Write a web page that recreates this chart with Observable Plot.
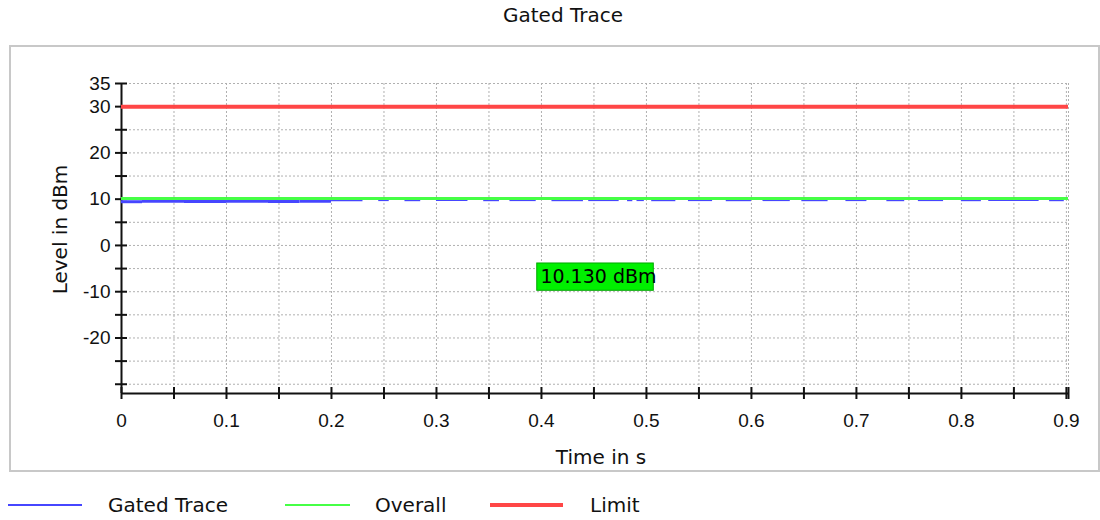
<!DOCTYPE html>
<html>
<head>
<meta charset="utf-8">
<script src="https://cdn.jsdelivr.net/npm/d3@7"></script>
<script src="https://cdn.jsdelivr.net/npm/@observablehq/plot@0.6"></script>
<style>
  html, body { margin: 0; padding: 0; background: #fff; }
  body { position: relative; width: 1100px; height: 520px; overflow: hidden; font-family: "DejaVu Sans", sans-serif; }
  #title { position: absolute; left: 0; top: 3px; width: 1126px; text-align: center; font-size: 20px; color: #111; }
  #frame { position: absolute; left: 9px; top: 45px; width: 1087px; height: 423px; border: 2px solid #c8c8c8; }
  #legend { position: absolute; left: 0; top: 492px; width: 1100px; height: 26px; font-size: 20px; color: #111; }
  .sw { position: absolute; }
  .lt { position: absolute; top: 0; line-height: 26px; }
</style>
</head>
<body>
<div id="title">Gated Trace</div>
<div id="frame"></div>
<div id="legend">
  <div class="sw" style="left:8px;top:12px;width:74px;height:2px;background:#4646ff"></div>
  <div class="lt" style="left:108px">Gated Trace</div>
  <div class="sw" style="left:285px;top:12px;width:65px;height:2px;background:#46ff46"></div>
  <div class="lt" style="left:375px">Overall</div>
  <div class="sw" style="left:490px;top:11px;width:73px;height:4px;background:#ff4646"></div>
  <div class="lt" style="left:590px">Limit</div>
</div>
<script>
// ---- data ----
const xDomain = [0, 0.902];
const yDomain = [-32, 35];
const xTicks = [0, 0.05, 0.1, 0.15, 0.2, 0.25, 0.3, 0.35, 0.4, 0.45, 0.5, 0.55, 0.6, 0.65, 0.7, 0.75, 0.8, 0.85, 0.9, 0.902];
const xLabels = [0, 0.1, 0.2, 0.3, 0.4, 0.5, 0.6, 0.7, 0.8, 0.9];
const yTicks = [-30, -25, -20, -15, -10, -5, 0, 5, 10, 15, 20, 25, 30, 35];
const yLabels = [35, 30, 20, 10, 0, -10, -20];
const limitLevel = 30;
const overallLevel = 10.13;
const markerText = "10.130 dBm";
const markerBox = {x1: 0.396, x2: 0.507, y1: -9.8, y2: -3.9, tx: 0.399, ty: -6.9};
// gated trace: solid part then fragments just under the overall line
const gatedStart = [0.000, 0.020, 0.060, 0.100, 0.140, 0.170];
const gatedEnd   = [0.020, 0.060, 0.100, 0.140, 0.170, 0.200];
const gatedLevel = [9.45, 9.55, 9.50, 9.55, 9.50, 9.55];
const fragStart = [0.200, 0.245, 0.270, 0.300, 0.345, 0.370, 0.410, 0.445, 0.482, 0.491, 0.505, 0.540, 0.576, 0.611, 0.648, 0.690, 0.729, 0.759, 0.800, 0.826, 0.884];
const fragEnd   = [0.230, 0.255, 0.285, 0.330, 0.360, 0.395, 0.440, 0.474, 0.487, 0.498, 0.528, 0.563, 0.600, 0.637, 0.673, 0.710, 0.746, 0.783, 0.819, 0.874, 0.898];
const fragLevel = [9.78, 9.80, 9.78, 9.80, 9.78, 9.80, 9.78, 9.80, 9.78, 9.80, 9.78, 9.80, 9.78, 9.80, 9.78, 9.80, 9.78, 9.80, 9.78, 9.80, 9.78];

const gated = gatedStart.map((s, i) => ({x1: s, x2: gatedEnd[i], y: gatedLevel[i]}));
const frags = fragStart.map((s, i) => ({x1: s, x2: fragEnd[i], y: fragLevel[i]}));

const blue = "#4646ff", green = "#46ff46", red = "#ff4646";
const tickFont = "Liberation Sans, Arial, sans-serif";

const chart = Plot.plot({
  width: 1087,
  height: 423,
  marginLeft: 110,
  marginRight: 30,
  marginTop: 36,
  marginBottom: 77,
  x: {domain: xDomain, axis: null},
  y: {domain: yDomain, axis: null},
  style: {background: "transparent", overflow: "visible"},
  marks: [
    // grid
    Plot.ruleX(xTicks.slice(1), {x: d => d, y1: yDomain[0], y2: yDomain[1], stroke: "#b0b0b0", strokeWidth: 1, strokeDasharray: "2,2"}),
    Plot.ruleY(yTicks, {y: d => d, x1: xDomain[0], x2: xDomain[1], stroke: "#b0b0b0", strokeWidth: 1, strokeDasharray: "2,2"}),
    // axes
    Plot.ruleX([0], {x: d => d, y1: yDomain[0], y2: yDomain[1], stroke: "#111", strokeWidth: 2}),
    Plot.ruleY([yDomain[0]], {y: d => d, x1: xDomain[0], x2: xDomain[1], stroke: "#111", strokeWidth: 2}),
    Plot.ruleY(yTicks, {y: d => d, x1: 0, x2: 0, insetLeft: -6, insetRight: -6, stroke: "#111", strokeWidth: 2}),
    Plot.ruleX(xTicks, {x: d => d, y1: yDomain[0], y2: yDomain[0], insetTop: -6, insetBottom: -6, stroke: "#111", strokeWidth: 2}),
    Plot.text(yLabels, {x: 0, y: d => d, text: d => String(d), dx: -11, textAnchor: "end", fontSize: 19, fontFamily: tickFont, fill: "#111"}),
    Plot.text(xLabels, {x: d => d, y: yDomain[0], text: d => String(d), dy: 27, textAnchor: "middle", fontSize: 19, fontFamily: tickFont, fill: "#111"}),
    // axis titles
    Plot.text(["Time in s"], {frameAnchor: "bottom", text: d => d, dx: 6, dy: 64, textAnchor: "middle", lineAnchor: "middle", fontSize: 20, fontFamily: "DejaVu Sans", fill: "#111"}),
    Plot.text(["Level in dBm"], {frameAnchor: "left", text: d => d, rotate: -90, dx: -61, dy: -9, textAnchor: "middle", lineAnchor: "middle", fontSize: 20, fontFamily: "DejaVu Sans", fill: "#111"}),
    // series
    Plot.ruleY([limitLevel], {y: d => d, x1: xDomain[0], x2: xDomain[1], stroke: red, strokeWidth: 4}),
    Plot.ruleY(gated, {y: "y", x1: "x1", x2: "x2", stroke: blue, strokeWidth: 3}),
    Plot.ruleY(frags, {y: "y", x1: "x1", x2: "x2", stroke: blue, strokeWidth: 2}),
    Plot.ruleY([overallLevel], {y: d => d, x1: xDomain[0], x2: xDomain[1], stroke: green, strokeWidth: 3}),
    // marker label
    Plot.rect([markerBox], {x1: "x1", x2: "x2", y1: "y1", y2: "y2", fill: "#00f000", stroke: "#00a800", strokeWidth: 1}),
    Plot.text([markerBox], {x: "tx", y: "ty", text: () => markerText, textAnchor: "start", fontSize: 19, fontFamily: "DejaVu Sans", fill: "#000"})
  ]
});
document.getElementById("frame").appendChild(chart);
</script>
</body>
</html>
